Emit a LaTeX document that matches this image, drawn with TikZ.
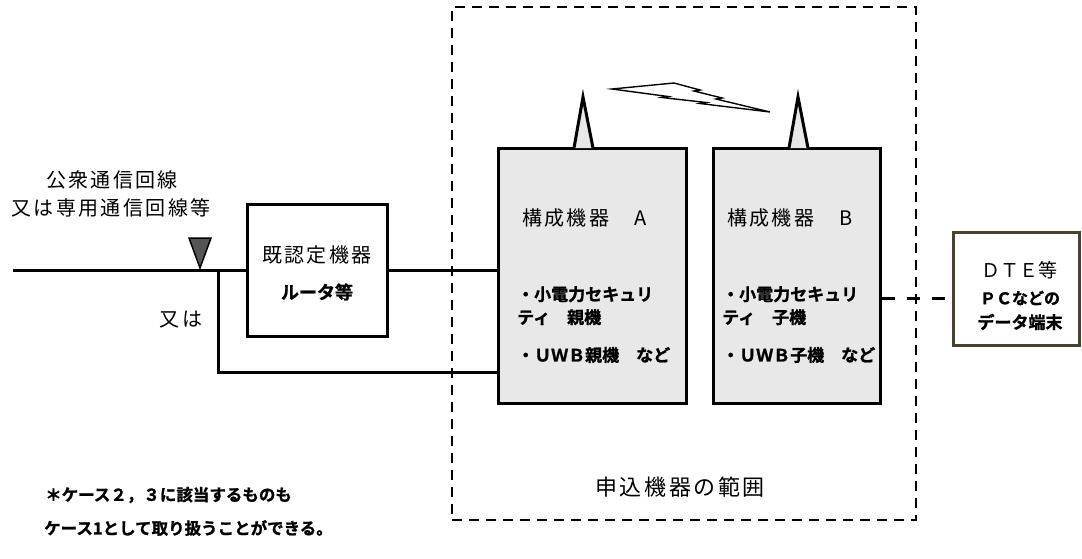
\documentclass[tikz,border=0pt]{standalone}
\usepackage{fontspec}
\newfontfamily\jp[LetterSpace=12]{Noto Sans CJK JP}
\newfontfamily\jpn{Noto Sans CJK JP}
\newfontfamily\jpb[UprightFont=* Bold,FakeBold=1.2]{Noto Sans CJK JP}
\definecolor{boxgray}{RGB}{232,232,232}
\definecolor{tridark}{RGB}{85,85,85}
\definecolor{olive}{RGB}{72,66,46}
\begin{document}
\begin{tikzpicture}[x=1pt,y=-1pt,line join=miter,
  box/.style={draw,line width=3pt,inner sep=0pt},
  devbox/.style={box,fill=boxgray},
  wire/.style={line width=3pt},
  lbl/.style={inner sep=0pt,font=\jp\fontsize{20}{23}\selectfont},
  blbl/.style={inner sep=0pt,align=left,font=\jpb\fontsize{17}{23}\selectfont},
  note/.style={inner sep=0pt,anchor=west,font=\jpb\fontsize{16.5}{20}\selectfont},
  antenna/.style={draw,line width=3pt,fill=boxgray},
]
\useasboundingbox (0,0) rectangle (1082,558);

% scope of the application (dashed)
\node[draw,dash pattern=on 10pt off 7pt,line width=2.5pt,inner sep=0pt,
      minimum width=464pt,minimum height=513pt] (scopebox) at (684,263.5) {};

% boxes
\node[box,fill=white,minimum width=140pt,minimum height=132pt] (router) at (317,270) {};
\node[devbox,minimum width=188pt,minimum height=255pt] (devA) at (592,275.5) {};
\node[devbox,minimum width=167pt,minimum height=255pt] (devB) at (796.5,275.5) {};
\node[draw=olive,line width=3pt,fill=white,inner sep=0pt,minimum width=126pt,minimum height=113pt] (dte) at (1016,288.5) {};

% antennas
\draw[antenna] (574,148) -- (583,97) -- (593,148);
\draw[antenna] (789,148) -- (798,97) -- (808,148);

% radio bolt
\draw[line width=1.4pt,fill=white] (612,89) -- (674,83) -- (700,90) -- (694,91)
  -- (722,98) -- (716,99) -- (770,112) -- (700,103.5) -- (706,102.5)
  -- (662,97.5) -- (668,96.5) -- cycle;

% wires
\coordinate (lineStart) at (13,270);
\coordinate (branch) at (218,270);
\coordinate (branchLow) at (218,372);
\draw[wire] (lineStart) -- (router.west);
\draw[wire] (router.east) -- (router.east -| devA.west);
\draw[wire] (branch) -- (branchLow) -- (branchLow -| devA.west);
\coordinate (dteLink) at (880,298);
\draw[line width=3pt,dash pattern=on 13pt off 12pt] (dteLink -| devB.east) -- (dteLink -| dte.west);

% line marker triangle
\draw[line width=1.5pt,fill=tridark] (189,238) -- (211,238) -- (200,268) -- cycle;

% labels
\node[lbl] (pub1) at (112,180) {公衆通信回線};
\node[lbl] (pub2) at (111,208) {又は専用通信回線等};
\node[lbl] (orlbl) at (181,320) {又は};
\node[lbl] (rt1) at (317,255) {既認定機器};
\node[inner sep=0pt,font=\jpb\fontsize{18}{20}\selectfont] (rt2) at (317,292) {ルータ等};

\node[lbl,anchor=west] (aT) at (522,218) {構成機器　A};
\node[blbl,anchor=north west] (aL1) at (517,286) {・小電力セキュリ\\ティ　親機};
\node[blbl,anchor=west] (aL2) at (517,355) {・ＵＷＢ親機　など};

\node[lbl,anchor=west] (bT) at (727,218) {構成機器　B};
\node[blbl,anchor=north west] (bL1) at (722,286) {・小電力セキュリ\\ティ　子機};
\node[blbl,anchor=west] (bL2) at (722,355) {・ＵＷＢ子機　など};

\node[inner sep=0pt,font=\jpn\fontsize{19}{20}\selectfont] (dte1) at (1019,270) {ＤＴＥ等};
\node[inner sep=0pt,font=\jpb\fontsize{16}{20}\selectfont] (dte2) at (1020,298) {ＰＣなどの};
\node[inner sep=0pt,font=\jpb\fontsize{17}{20}\selectfont] (dte3) at (1020,322) {データ端末};

\node[inner sep=0pt,font=\jp\fontsize{22}{24}\selectfont] (scopelbl) at (680,487) {申込機器の範囲};

\node[note] (note1) at (45,495) {＊ケース２，３に該当するものも};
\node[note] (note2) at (44,528) {ケース1として取り扱うことができる。};
\end{tikzpicture}
\end{document}
